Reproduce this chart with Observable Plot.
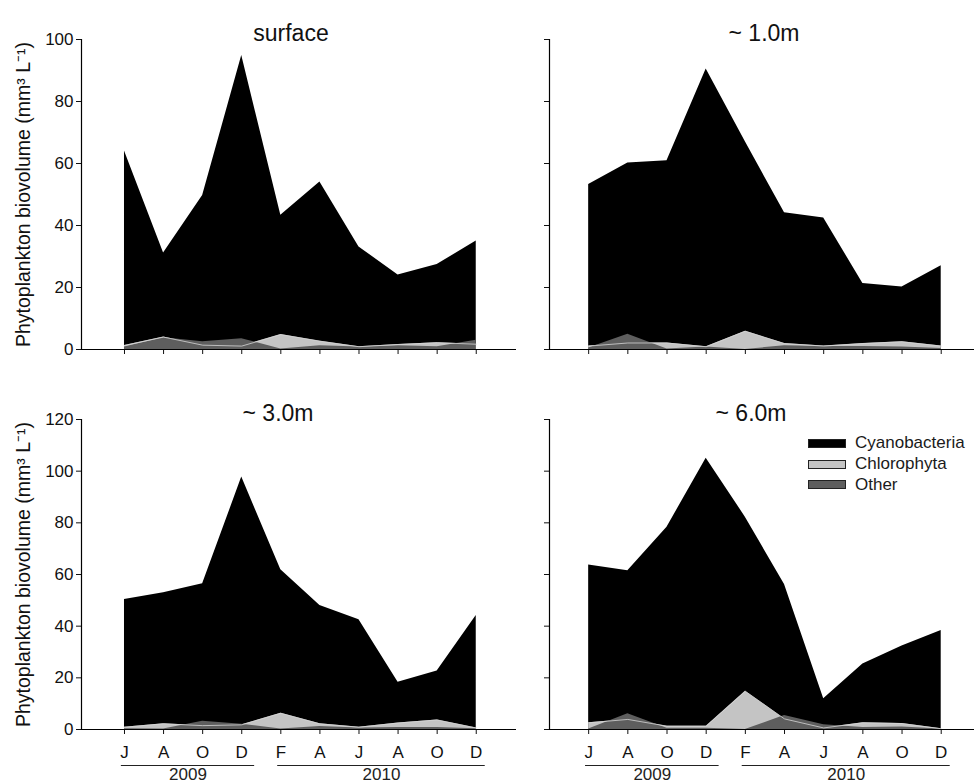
<!DOCTYPE html>
<html>
<head>
<meta charset="utf-8">
<script src="https://cdn.jsdelivr.net/npm/d3@7"></script>
<script src="https://cdn.jsdelivr.net/npm/@observablehq/plot@0.6"></script>
<style>
  html, body { margin: 0; padding: 0; background: #fff; overflow: hidden; }
  #root { position: relative; width: 974px; height: 784px; overflow: hidden; font-family: "Liberation Sans", Arial, sans-serif; }
  .panel { position: absolute; }
  .legend { position: absolute; left: 808px; top: 433px; font-size: 17px; color: #1a1a1a; }
  .legend .row { display: flex; align-items: center; height: 20.7px; }
  .legend .sw { width: 36px; height: 7px; border: 1px solid #222; margin-right: 9px; }
</style>
</head>
<body>
<div id="root"></div>
<script>
// ---- data ----
const months = ["J", "A", "O", "D", "F", "A", "J", "A", "O", "D"];
const years = ["2009", "2010"];
const yearFrom = [-0.08, 3.92];
const yearTo = [3.33, 9.23];
const seriesNames = ["Cyanobacteria", "Chlorophyta", "Other"];
const seriesColors = ["#000000", "#c4c4c4", "#5e5e5e"];
const panelTitles = ["surface", "~ 1.0m", "~ 3.0m", "~ 6.0m"];
const yLabel = "Phytoplankton biovolume (mm³ L⁻¹)";

const surfaceCyano  = [64.0, 31.1, 49.7, 94.8, 43.3, 54.0, 33.1, 24.0, 27.4, 35.0];
const surfaceChloro = [1.3, 4.0, 1.4, 1.1, 4.8, 2.7, 0.9, 1.6, 2.2, 1.7];
const surfaceOther  = [0.8, 3.8, 2.5, 3.5, 0.2, 1.2, 0.8, 1.2, 0.9, 3.0];

const m1Cyano  = [53.2, 60.2, 60.9, 90.5, 67.0, 44.1, 42.4, 21.3, 20.2, 27.0];
const m1Chloro = [1.1, 2.1, 2.1, 0.9, 5.9, 1.9, 1.1, 1.9, 2.5, 1.1];
const m1Other  = [0.5, 4.9, 0.2, 0.8, 0.0, 1.2, 1.0, 1.0, 0.8, 0.3];

const m3Cyano  = [50.3, 52.9, 56.4, 97.7, 61.8, 48.0, 42.5, 18.3, 22.6, 44.1];
const m3Chloro = [0.9, 2.2, 1.5, 1.8, 6.3, 2.2, 0.9, 2.5, 3.7, 0.6];
const m3Other  = [0.3, 0.2, 3.2, 2.0, 0.2, 1.2, 0.6, 0.8, 0.8, 0.3];

const m6Cyano  = [63.7, 61.5, 78.3, 105.0, 82.2, 56.1, 11.9, 25.4, 32.3, 38.3];
const m6Chloro = [2.6, 3.9, 1.3, 1.3, 14.8, 4.1, 0.6, 2.6, 2.3, 0.3];
const m6Other  = [0.2, 6.1, 0.5, 0.5, 0.0, 5.4, 1.8, 0.8, 1.0, 0.2];

// ---- build ----
function rowsOf(c, g, o) {
  return months.map((m, i) => ({i, month: m, cyano: c[i], chloro: g[i], other: o[i]}));
}
const yearRows = years.map((y, k) => ({year: y, from: yearFrom[k], to: yearTo[k], mid: (yearFrom[k] + yearTo[k]) / 2}));

const panels = [
  {title: panelTitles[0], rows: rowsOf(surfaceCyano, surfaceChloro, surfaceOther), left: 0, top: 0, col: 0, row: 0, tdx: -8},
  {title: panelTitles[1], rows: rowsOf(m1Cyano, m1Chloro, m1Other), left: 520, top: 0, col: 1, row: 0, tdx: 2},
  {title: panelTitles[2], rows: rowsOf(m3Cyano, m3Chloro, m3Other), left: 0, top: 380, col: 0, row: 1, tdx: -21},
  {title: panelTitles[3], rows: rowsOf(m6Cyano, m6Chloro, m6Other), left: 520, top: 380, col: 1, row: 1, tdx: -11}
];

const root = document.getElementById("root");
const font = "'Liberation Sans', Arial, sans-serif";

for (const p of panels) {
  const isLeft = p.col === 0;
  const isBottom = p.row === 1;
  const ymax = isBottom ? 120 : 100;
  const yTicks = d3.range(0, ymax + 1, 20);
  const xDomain = isLeft ? [-1.1, 10.03] : [-1.0, 9.85];
  const marks = [
    Plot.areaY(p.rows, {x: "i", y1: 0, y2: "cyano", fill: seriesColors[0]}),
    Plot.areaY(p.rows, {x: "i", y1: 0, y2: "chloro", fill: seriesColors[1]}),
    Plot.areaY(p.rows, {x: "i", y1: 0, y2: "other", fill: seriesColors[2]}),
    Plot.lineY(p.rows, {x: "i", y: "chloro", stroke: "#d6d6d6", strokeWidth: 0.8}),
    Plot.ruleY([0], {stroke: "#000", strokeWidth: 1.2}),
    Plot.frame({anchor: "left", stroke: "#000", strokeWidth: 1.2}),
    Plot.text([p.title], {text: d => d, frameAnchor: "top", dy: -15, dx: p.tdx, fontSize: 23, fill: "#111"})
  ];
  if (isLeft) {
    marks.push(Plot.text([yLabel], {text: d => d, frameAnchor: "left", textAnchor: "middle", rotate: -90, dx: -58, fontSize: 19.5, fill: "#111"}));
  }
  if (isBottom) {
    marks.push(Plot.ruleY(yearRows, {y: 0, x1: "from", x2: "to", dy: 36, stroke: "#222", strokeWidth: 1.2}));
    marks.push(Plot.text(yearRows, {x: "mid", y: 0, text: "year", dy: 45.5, fontSize: 17, fill: "#222"}));
  }
  const chart = Plot.plot({
    width: isLeft ? 520 : 454,
    height: isBottom ? 420 : 380,
    marginLeft: isLeft ? 81 : 29,
    marginRight: isLeft ? 4 : 0,
    marginTop: 39,
    marginBottom: isBottom ? 71 : 31,
    style: {fontFamily: font, fontSize: "17px", background: "transparent", overflow: "visible", color: "#111"},
    x: {
      domain: xDomain,
      ticks: d3.range(months.length),
      tickFormat: isBottom ? (i => months[i]) : (() => ""),
      tickSize: 5,
      tickPadding: 11,
      label: null
    },
    y: {
      domain: [0, ymax],
      ticks: yTicks,
      tickFormat: isLeft ? (v => String(v)) : (() => ""),
      tickSize: 5,
      tickPadding: 3,
      label: null
    },
    marks
  });
  const wrap = document.createElement("div");
  wrap.className = "panel";
  wrap.style.left = p.left + "px";
  wrap.style.top = p.top + "px";
  wrap.appendChild(chart);
  root.appendChild(wrap);
}

// legend
const legend = document.createElement("div");
legend.className = "legend";
seriesNames.forEach((name, k) => {
  const row = document.createElement("div");
  row.className = "row";
  const sw = document.createElement("div");
  sw.className = "sw";
  sw.style.background = seriesColors[k];
  const lab = document.createElement("span");
  lab.textContent = name;
  row.appendChild(sw);
  row.appendChild(lab);
  legend.appendChild(row);
});
root.appendChild(legend);
</script>
</body>
</html>
